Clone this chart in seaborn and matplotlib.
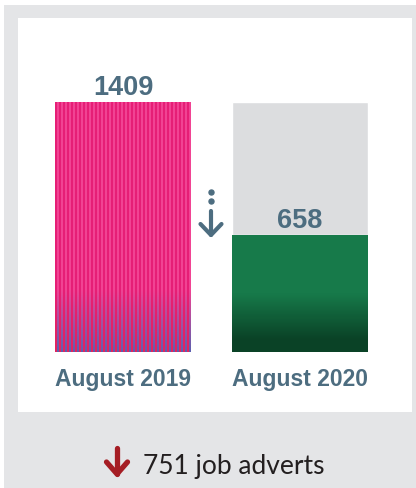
import numpy as np
import matplotlib
matplotlib.use("Agg")
import matplotlib.pyplot as plt
from matplotlib.patches import Rectangle
from matplotlib.lines import Line2D
import seaborn as sns

# data
periods = ["August 2019", "August 2020"]
adverts = [1409, 658]
drop_text = "751 job adverts"

W, H = 416, 489
sns.set_theme(style="white")
plt.rcParams['font.family'] = ['Liberation Sans', 'DejaVu Sans']

fig = plt.figure(figsize=(W / 100, H / 100), dpi=100, facecolor="white")

def px(x, y):
    # pixel (from top-left) -> figure fraction
    return x / W, 1 - y / H

# grey frame and white panel
fig.add_artist(Rectangle((4 / W, 0), 412 / W, (H - 6) / H, transform=fig.transFigure,
                         facecolor="#e4e5e7", edgecolor="none", zorder=-10))
fig.add_artist(Rectangle((18 / W, (H - 413) / H), 394 / W, 394 / H, transform=fig.transFigure,
                         facecolor="white", edgecolor="none", zorder=-9))

ax = fig.add_axes([18 / W, (H - 353) / H, 394 / W, (353 - 19) / H])
ax.set_facecolor("none")

# grey background bars (full scale), then the real bars on top
sns.barplot(x=periods, y=[max(adverts)] * len(periods), color="#dcdddf",
            width=0.768, saturation=1, ax=ax, zorder=1)
n_bg = len(ax.patches)
sns.barplot(x=periods, y=adverts, color="#177a4a", width=0.768,
            saturation=1, ax=ax, zorder=2)
bars = ax.patches[n_bg:]

ax.set_xlim(-(123 - 18) / 177, 1 + (412 - 300) / 177)
ax.set_ylim(0, (353 - 19) * max(adverts) / 250)


def fill_image(patch, img, z):
    x0, y0 = patch.get_x(), patch.get_y()
    im = ax.imshow(img, extent=[x0, x0 + patch.get_width(), y0, y0 + patch.get_height()],
                   aspect="auto", interpolation="nearest", zorder=z, origin="upper")
    im.set_clip_path(patch)
    patch.set_facecolor("none")


def hex2rgb(h):
    return np.array([int(h[i:i + 2], 16) / 255 for i in (1, 3, 5)])

# striped pink bar fading into purple at the base
rows, cols = 250, 68
t = np.clip((np.arange(rows) - 187) / 63, 0, 1)[:, None]  # 0 at top part, 1 at bottom
a_top, a_bot = hex2rgb("#e61e76"), hex2rgb("#e2245e")
b_top, b_bot = hex2rgb("#f14393"), hex2rgb("#5a60b0")
img1 = np.zeros((rows, cols, 3))
sa = a_top + (a_bot - a_top) * t[..., None]
sb = b_top + (b_bot - b_top) * t[..., None]
for c in range(cols):
    img1[:, c, :] = (sa if c % 2 == 0 else sb)[:, 0, :]
fill_image(bars[0], img1, 3)

# green bar with a dark base
rows2 = 112
t2 = np.clip((np.arange(rows2) - 55) / 45, 0, 1)
g_top, g_bot = hex2rgb("#177a4a"), hex2rgb("#0a4226")
img2 = (g_top + (g_bot - g_top) * t2[:, None])[:, None, :].repeat(4, axis=1)
fill_image(bars[1], img2, 3)

label_col = "#4d6d80"
for i, v in enumerate(adverts):
    ax.annotate(f"{v}", (i, v), xytext=(0, 6), textcoords="offset points",
                ha="center", va="baseline", fontsize=19.5, fontweight="bold",
                color=label_col, zorder=5)

ax.set_xticks(range(len(periods)))
ax.set_xticklabels(periods, fontsize=16.5, fontweight="bold", color=label_col)
ax.tick_params(axis="x", length=0, pad=10.5)
ax.set_yticks([])
ax.set_xlabel("")
ax.set_ylabel("")
sns.despine(ax=ax, left=True, bottom=True)


def draw_arrow(x, y_top, y_bot, half, arm, color, lw):
    fig.add_artist(Line2D(*zip(px(x, y_top), px(x, y_bot)), transform=fig.transFigure,
                          color=color, lw=lw, solid_capstyle="round"))
    xs = [x - half, x, x + half]
    ys = [y_bot - arm, y_bot, y_bot - arm]
    pts = [px(a, b) for a, b in zip(xs, ys)]
    fig.add_artist(Line2D([p[0] for p in pts], [p[1] for p in pts], transform=fig.transFigure,
                          color=color, lw=lw, solid_capstyle="round", solid_joinstyle="round"))

# dotted arrow between the bars
for yy in (192.5, 202):
    fig.add_artist(Line2D([px(211, yy)[0]], [px(211, yy)[1]], transform=fig.transFigure,
                          marker="o", markersize=3.6, color=label_col, lw=0))
draw_arrow(211, 212, 236, 10.5, 11, label_col, 3.0)

# bottom summary
draw_arrow(117, 449, 475, 10.5, 12, "#a51d24", 3.8)
fig.text(143 / W, 1 - 474 / H, drop_text, ha="left", va="baseline",
         fontsize=19, color="#231f20", family=["Lato", "DejaVu Sans"])

fig.savefig("out.png", dpi=100)
